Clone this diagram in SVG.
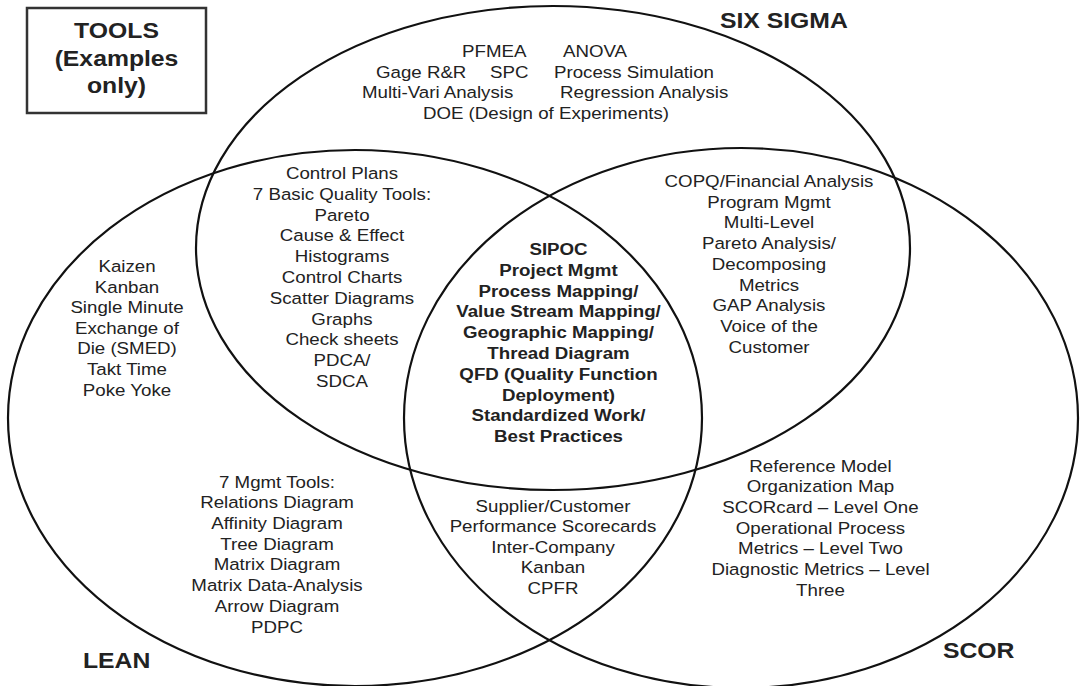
<svg xmlns="http://www.w3.org/2000/svg" width="1081" height="686" viewBox="0 0 1081 686">
<style>
.ring{fill:none;stroke:#111;stroke-width:2.2}
.t{font-family:"Liberation Sans",Arial,sans-serif;font-size:17px;fill:#222;text-anchor:middle}
.s{text-anchor:start}
.b{font-weight:bold}
.big{font-family:"Liberation Sans",Arial,sans-serif;font-size:22.5px;font-weight:bold;fill:#222}
</style>
<rect width="1081" height="686" fill="#fff"/>
<g id="connectors">
<ellipse id="ring-sixsigma" class="ring" cx="553" cy="248" rx="357" ry="242"/>
<ellipse id="ring-lean" class="ring" cx="355" cy="418" rx="347" ry="268"/>
<ellipse id="ring-scor" class="ring" cx="741" cy="418" rx="337" ry="270"/>
</g>
<g id="legend-box">
<rect x="27" y="8" width="179" height="105" fill="none" stroke="#333" stroke-width="2.5"/>
<text class="big" text-anchor="middle" transform="translate(116.5,0) scale(1.1,1)"><tspan x="0" y="38.5">TOOLS</tspan><tspan x="0" y="66.5">(Examples</tspan><tspan x="0" y="93">only)</tspan></text>
</g>
<g id="label-sixsigma"><text class="big" transform="translate(720,28) scale(1.1,1)">SIX SIGMA</text></g>
<g id="label-lean"><text class="big" transform="translate(83,668) scale(1.1,1)">LEAN</text></g>
<g id="label-scor"><text class="big" transform="translate(943,658) scale(1.1,1)">SCOR</text></g>
<g id="node-sixsigma">
<text class="t s" transform="translate(462,57) scale(1.1,1)">PFMEA</text>
<text class="t s" transform="translate(563,57) scale(1.1,1)">ANOVA</text>
<text class="t s" transform="translate(376,77.5) scale(1.1,1)">Gage R&amp;R</text>
<text class="t s" transform="translate(490,77.5) scale(1.1,1)">SPC</text>
<text class="t s" transform="translate(554,77.5) scale(1.1,1)">Process Simulation</text>
<text class="t s" transform="translate(362,98) scale(1.1,1)">Multi-Vari Analysis</text>
<text class="t s" transform="translate(560,98) scale(1.1,1)">Regression Analysis</text>
<text class="t" transform="translate(546,118.5) scale(1.1,1)">DOE (Design of Experiments)</text>
</g>
<g id="node-lean">
<text class="t" transform="translate(127,0) scale(1.1,1)"><tspan x="0" y="272">Kaizen</tspan><tspan x="0" y="292.6">Kanban</tspan><tspan x="0" y="313.2">Single Minute</tspan><tspan x="0" y="333.8">Exchange of</tspan><tspan x="0" y="354.4">Die (SMED)</tspan><tspan x="0" y="375">Takt Time</tspan><tspan x="0" y="395.6">Poke Yoke</tspan></text>
</g>
<g id="node-lean-sixsigma">
<text class="t" transform="translate(342,0) scale(1.1,1)"><tspan x="0" y="179">Control Plans</tspan><tspan x="0" y="199.8">7 Basic Quality Tools:</tspan><tspan x="0" y="220.6">Pareto</tspan><tspan x="0" y="241.4">Cause &amp; Effect</tspan><tspan x="0" y="262.2">Histograms</tspan><tspan x="0" y="283">Control Charts</tspan><tspan x="0" y="303.8">Scatter Diagrams</tspan><tspan x="0" y="324.6">Graphs</tspan><tspan x="0" y="345.4">Check sheets</tspan><tspan x="0" y="366.2">PDCA/</tspan><tspan x="0" y="387">SDCA</tspan></text>
</g>
<g id="node-center">
<text class="t b" transform="translate(558.5,0) scale(1.1,1)"><tspan x="0" y="255">SIPOC</tspan><tspan x="0" y="275.8">Project Mgmt</tspan><tspan x="0" y="296.6">Process Mapping/</tspan><tspan x="0" y="317.4">Value Stream Mapping/</tspan><tspan x="0" y="338.2">Geographic Mapping/</tspan><tspan x="0" y="359">Thread Diagram</tspan><tspan x="0" y="379.8">QFD (Quality Function</tspan><tspan x="0" y="400.6">Deployment)</tspan><tspan x="0" y="421.4">Standardized Work/</tspan><tspan x="0" y="442.2">Best Practices</tspan></text>
</g>
<g id="node-sixsigma-scor">
<text class="t" transform="translate(769,0) scale(1.1,1)"><tspan x="0" y="187">COPQ/Financial Analysis</tspan><tspan x="0" y="207.8">Program Mgmt</tspan><tspan x="0" y="228.5">Multi-Level</tspan><tspan x="0" y="249.3">Pareto Analysis/</tspan><tspan x="0" y="270">Decomposing</tspan><tspan x="0" y="290.8">Metrics</tspan><tspan x="0" y="311.5">GAP Analysis</tspan><tspan x="0" y="332.3">Voice of the</tspan><tspan x="0" y="353">Customer</tspan></text>
</g>
<g id="node-lean-only-mgmt">
<text class="t" transform="translate(277,0) scale(1.1,1)"><tspan x="0" y="487.7">7 Mgmt Tools:</tspan><tspan x="0" y="508.4">Relations Diagram</tspan><tspan x="0" y="529.1">Affinity Diagram</tspan><tspan x="0" y="549.8">Tree Diagram</tspan><tspan x="0" y="570.5">Matrix Diagram</tspan><tspan x="0" y="591.2">Matrix Data-Analysis</tspan><tspan x="0" y="611.9">Arrow Diagram</tspan><tspan x="0" y="632.6">PDPC</tspan></text>
</g>
<g id="node-lean-scor">
<text class="t" transform="translate(553,0) scale(1.1,1)"><tspan x="0" y="511.7">Supplier/Customer</tspan><tspan x="0" y="532.3">Performance Scorecards</tspan><tspan x="0" y="552.9">Inter-Company</tspan><tspan x="0" y="573.5">Kanban</tspan><tspan x="0" y="594.1">CPFR</tspan></text>
</g>
<g id="node-scor">
<text class="t" transform="translate(820.5,0) scale(1.1,1)"><tspan x="0" y="471.7">Reference Model</tspan><tspan x="0" y="492.4">Organization Map</tspan><tspan x="0" y="513">SCORcard – Level One</tspan><tspan x="0" y="533.7">Operational Process</tspan><tspan x="0" y="554.4">Metrics – Level Two</tspan><tspan x="0" y="575">Diagnostic Metrics – Level</tspan><tspan x="0" y="595.7">Three</tspan></text>
</g>
</svg>
